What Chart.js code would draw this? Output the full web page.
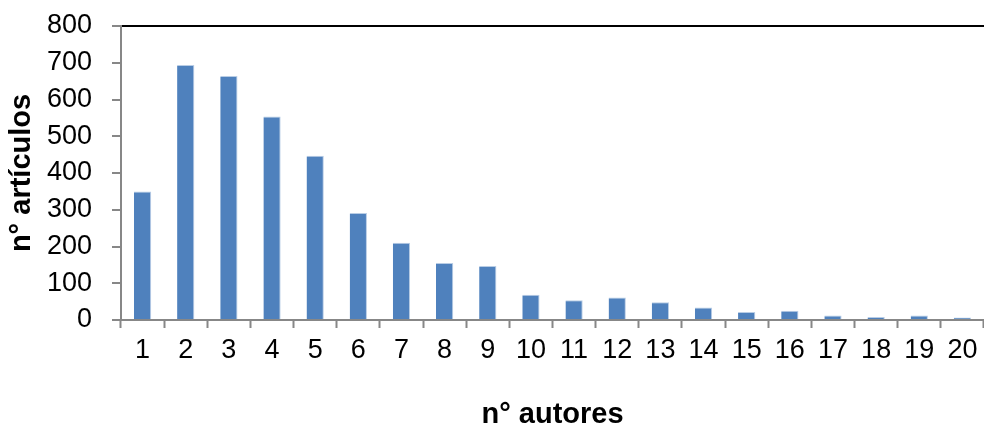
<!DOCTYPE html>
<html>
<head>
<meta charset="utf-8">
<script src="https://cdn.jsdelivr.net/npm/chart.js@4"></script>
<style>
    html, body { margin: 0; padding: 0; background: #fff; }
    canvas { display: block; }
</style>
</head>
<body>
<canvas id="authorsChart" width="984" height="426"></canvas>
<script>
// number of authors per article
const authorCounts = ["1", "2", "3", "4", "5", "6", "7", "8", "9", "10",
    "11", "12", "13", "14", "15", "16", "17", "18", "19", "20"];
const articleCounts = [350, 694, 664, 554, 447, 291, 210, 155, 147, 69,
    54, 61, 48, 34, 22, 25, 12, 8, 12, 7];

const yTitle = "n° artículos";
const xTitle = "n° autores";

const axisGrey = "#878787";
const fontFamily = "'Liberation Sans', Arial, sans-serif";

new Chart(document.getElementById("authorsChart"), {
    type: "bar",
    data: {
        labels: authorCounts,
        datasets: [{
            data: articleCounts,
            backgroundColor: "#4F81BD",
            borderColor: "#B9CDE5",
            borderWidth: { top: 1, left: 0, right: 1, bottom: 0 },
            barPercentage: 0.4,
            categoryPercentage: 1.0
        }]
    },
    options: {
        responsive: false,
        animation: false,
        layout: {
            padding: { top: 26, right: 0, bottom: 0, left: 0 }
        },
        scales: {
            x: {
                afterFit: function(scale) {
                    scale.height = 106;
                },
                grid: {
                    offset: true,
                    drawOnChartArea: false,
                    tickLength: 8,
                    tickColor: axisGrey,
                    tickWidth: 2
                },
                border: { color: axisGrey, width: 2 },
                ticks: {
                    color: "#000",
                    padding: 6,
                    maxRotation: 0,
                    font: { family: fontFamily, size: 27 }
                },
                title: {
                    display: true,
                    text: xTitle,
                    color: "#000",
                    padding: { top: 0, bottom: -6 },
                    font: { family: fontFamily, size: 29, weight: "bold" }
                }
            },
            y: {
                min: 0,
                max: 800,
                afterFit: function(scale) {
                    scale.width = 121;
                    // the labels may overflow, the plot top is set by the layout padding
                    scale.paddingTop = 0;
                    scale.paddingBottom = 0;
                },
                grid: {
                    // only the top line of the plot is drawn, in black
                    color: ctx => ctx.tick && ctx.tick.value === 800 ? "#000" : "rgba(0,0,0,0)",
                    lineWidth: 2,
                    tickLength: 9,
                    tickColor: axisGrey,
                    tickWidth: 2
                },
                border: { color: axisGrey, width: 2 },
                ticks: {
                    stepSize: 100,
                    color: "#000",
                    padding: 20,
                    font: { family: fontFamily, size: 27 }
                },
                title: {
                    display: true,
                    text: yTitle,
                    color: "#000",
                    padding: { top: 5, bottom: 0 },
                    font: { family: fontFamily, size: 29, weight: "bold" }
                }
            }
        },
        plugins: {
            legend: { display: false },
            tooltip: { enabled: false }
        }
    }
});
</script>
</body>
</html>
